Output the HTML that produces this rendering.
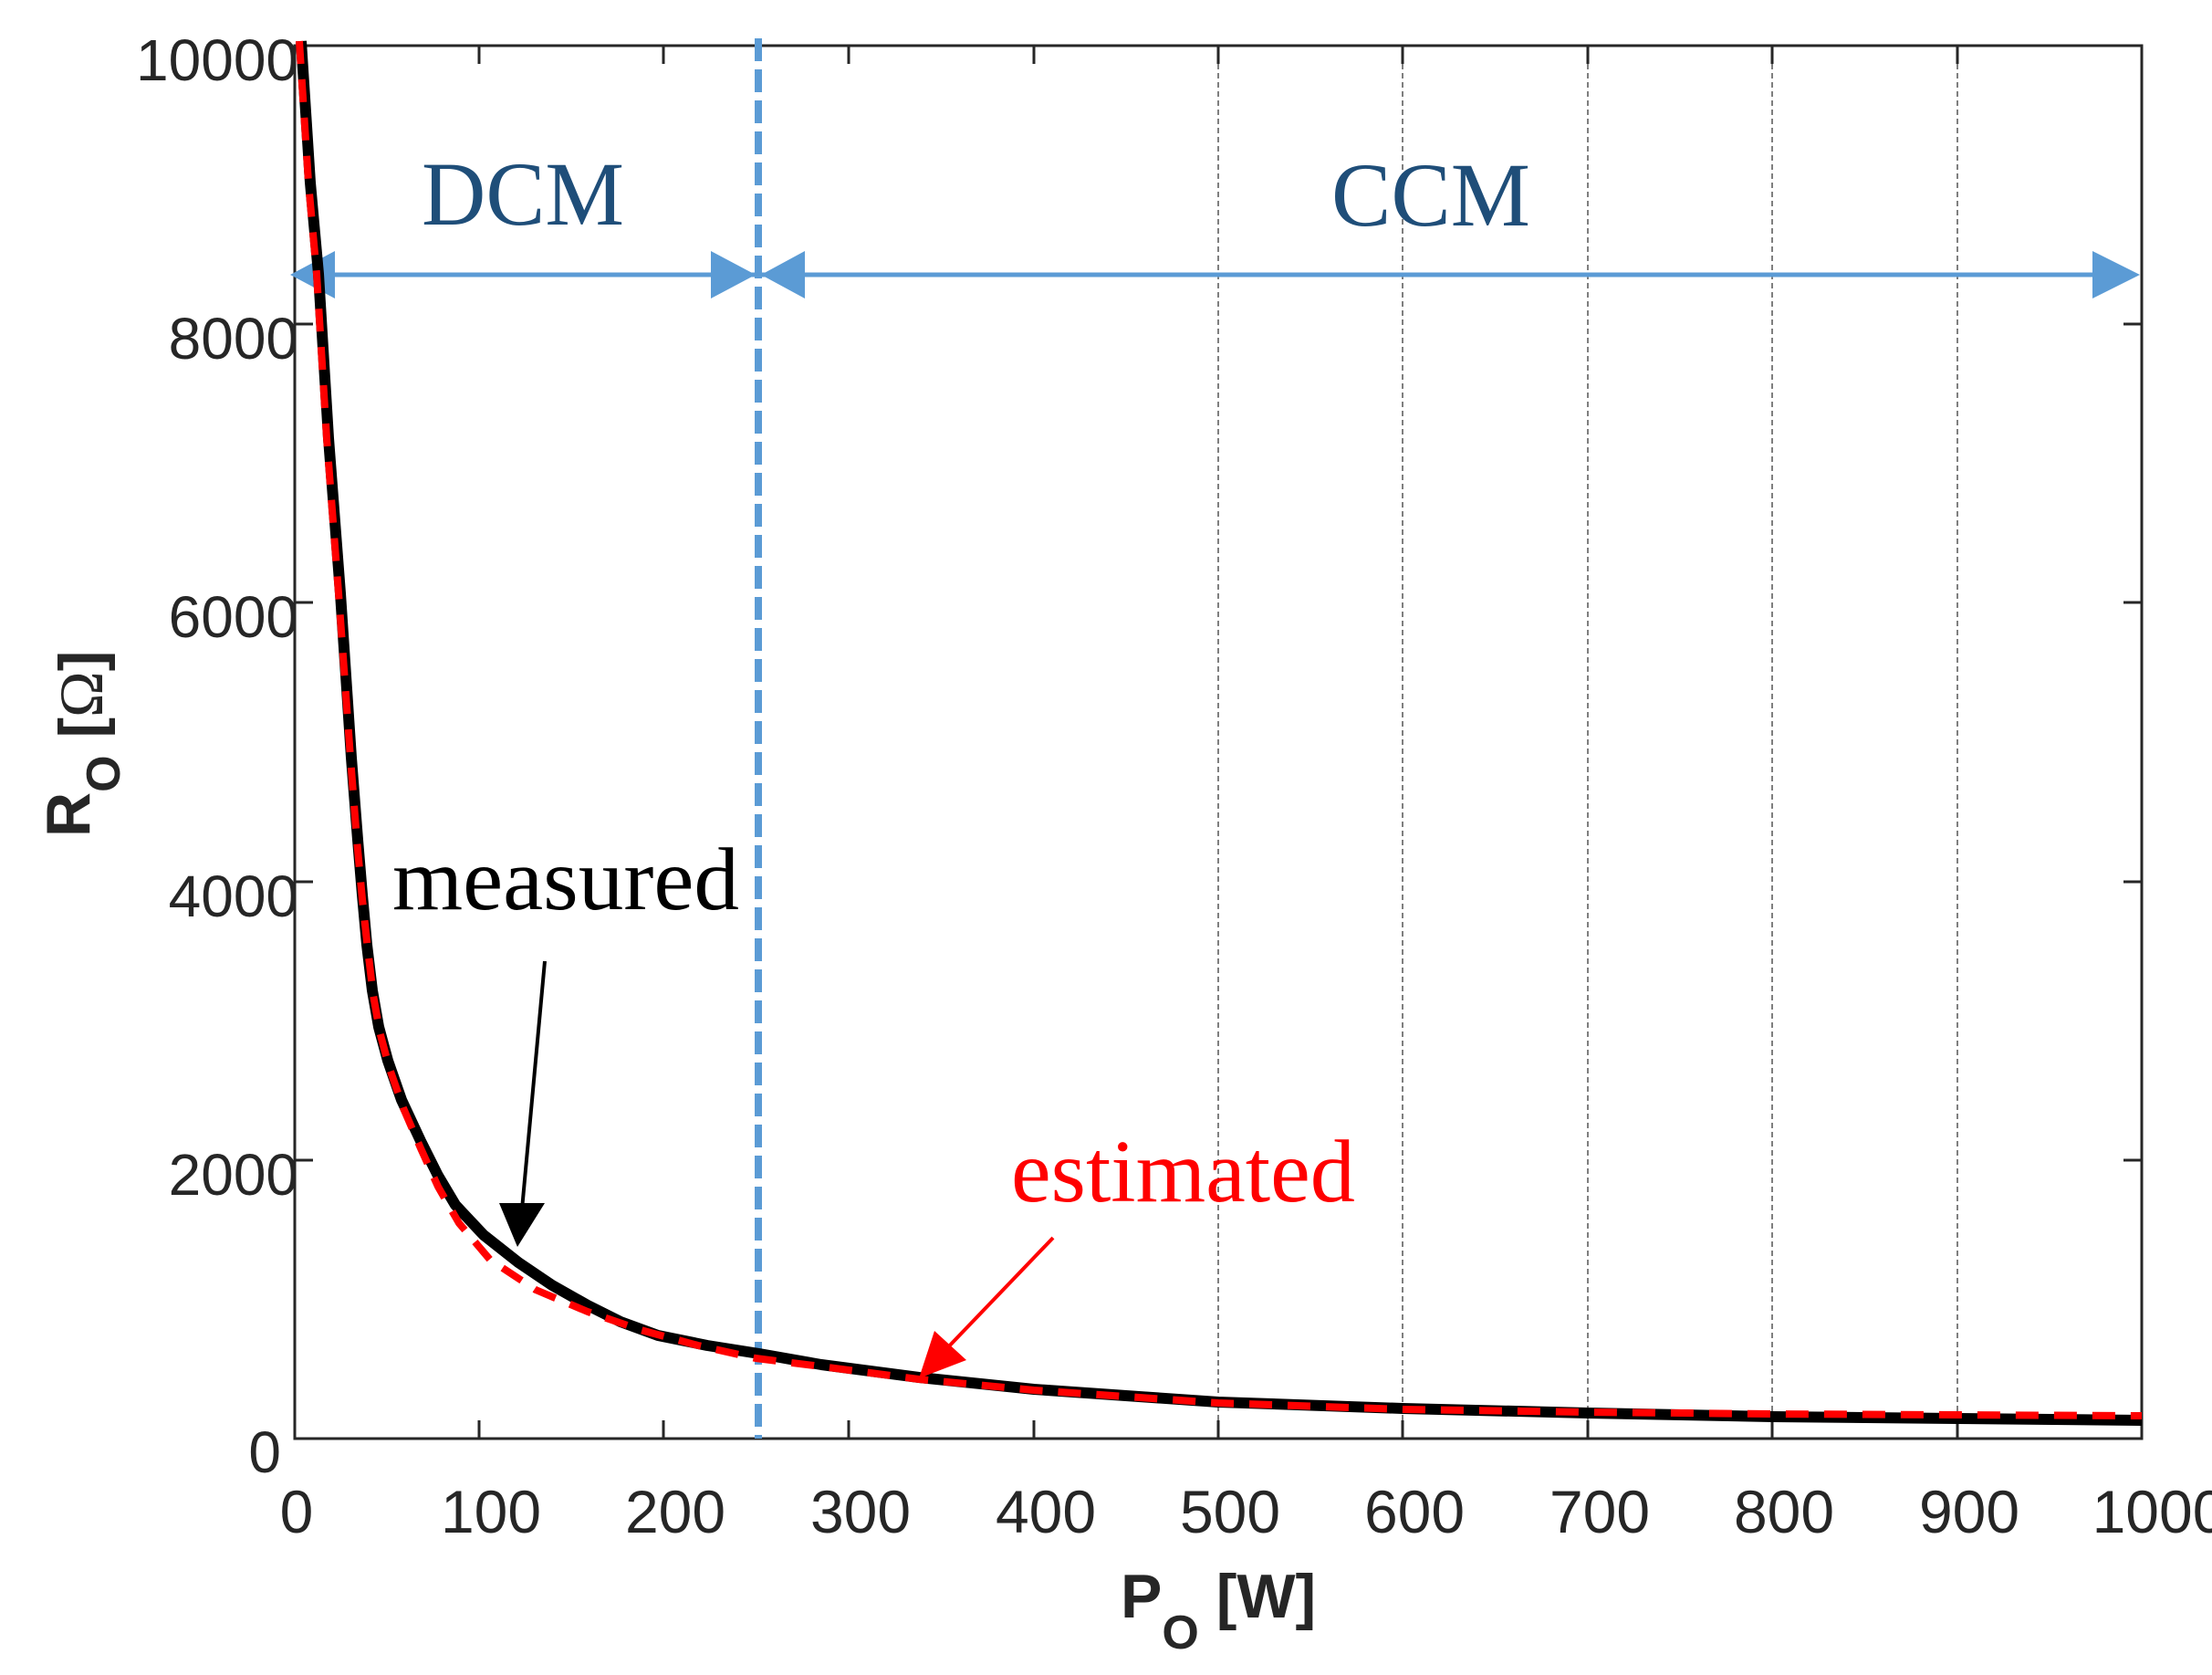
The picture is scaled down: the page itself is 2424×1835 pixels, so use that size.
<!DOCTYPE html>
<html><head><meta charset="utf-8"><style>html,body{margin:0;padding:0;background:#fff}svg{display:block}</style></head>
<body>
<svg width="2424" height="1835" viewBox="0 0 2424 1835" xmlns="http://www.w3.org/2000/svg">
<rect width="2424" height="1835" fill="#fff"/>
<g stroke="#555" stroke-width="1.5" stroke-dasharray="6,4">
<line x1="1335" y1="50" x2="1335" y2="1576"/>
<line x1="1537" y1="50" x2="1537" y2="1576"/>
<line x1="1740" y1="50" x2="1740" y2="1576"/>
<line x1="1942" y1="50" x2="1942" y2="1576"/>
<line x1="2145" y1="50" x2="2145" y2="1576"/>
</g>
<rect x="323" y="50" width="2024" height="1526" fill="none" stroke="#262626" stroke-width="3"/>
<g stroke="#262626" stroke-width="3">
<line x1="525" y1="1576" x2="525" y2="1556"/><line x1="727" y1="1576" x2="727" y2="1556"/>
<line x1="930" y1="1576" x2="930" y2="1556"/><line x1="1133" y1="1576" x2="1133" y2="1556"/>
<line x1="1335" y1="1576" x2="1335" y2="1556"/><line x1="1537" y1="1576" x2="1537" y2="1556"/>
<line x1="1740" y1="1576" x2="1740" y2="1556"/><line x1="1942" y1="1576" x2="1942" y2="1556"/>
<line x1="2145" y1="1576" x2="2145" y2="1556"/>
<line x1="525" y1="50" x2="525" y2="70"/><line x1="727" y1="50" x2="727" y2="70"/>
<line x1="930" y1="50" x2="930" y2="70"/><line x1="1133" y1="50" x2="1133" y2="70"/>
<line x1="1335" y1="50" x2="1335" y2="70"/><line x1="1537" y1="50" x2="1537" y2="70"/>
<line x1="1740" y1="50" x2="1740" y2="70"/><line x1="1942" y1="50" x2="1942" y2="70"/>
<line x1="2145" y1="50" x2="2145" y2="70"/>
<line x1="323" y1="355" x2="343" y2="355"/><line x1="323" y1="660" x2="343" y2="660"/>
<line x1="323" y1="966" x2="343" y2="966"/><line x1="323" y1="1271" x2="343" y2="1271"/>
<line x1="2347" y1="355" x2="2327" y2="355"/><line x1="2347" y1="660" x2="2327" y2="660"/>
<line x1="2347" y1="966" x2="2327" y2="966"/><line x1="2347" y1="1271" x2="2327" y2="1271"/>
</g>
<g font-family="Liberation Sans, sans-serif" font-size="64" fill="#262626" text-anchor="end">
<text x="327" y="88">10000</text>
<text x="327" y="393">8000</text>
<text x="327" y="698">6000</text>
<text x="327" y="1004">4000</text>
<text x="327" y="1309">2000</text>
<text x="308" y="1613">0</text>
</g>
<g font-family="Liberation Sans, sans-serif" font-size="66" fill="#262626" text-anchor="middle">
<text x="325" y="1679">0</text><text x="538" y="1679">100</text><text x="740" y="1679">200</text>
<text x="943" y="1679">300</text><text x="1146" y="1679">400</text><text x="1348" y="1679">500</text>
<text x="1550" y="1679">600</text><text x="1753" y="1679">700</text><text x="1955" y="1679">800</text>
<text x="2158" y="1679">900</text><text x="2366" y="1679">1000</text>
</g>
<g font-family="Liberation Sans, sans-serif" font-weight="bold" fill="#262626">
<text x="1228" y="1772" font-size="68">P<tspan font-size="52" dy="34">O</tspan><tspan dy="-34"> [W]</tspan></text>
<g transform="translate(98,917) rotate(-90)">
<text x="0" y="0" font-size="68">R<tspan font-size="52" dy="33">O</tspan><tspan dy="-19"> [</tspan><tspan font-family="Liberation Serif, serif" font-weight="normal">Ω</tspan>]</text>
</g>
</g>
<line x1="831" y1="42" x2="831" y2="1576" stroke="#5b9bd5" stroke-width="8" stroke-dasharray="25,9"/>
<line x1="340" y1="301" x2="2320" y2="301" stroke="#5b9bd5" stroke-width="5"/>
<g fill="#5b9bd5">
<polygon points="318,301 367,275 367,327"/>
<polygon points="828,301 779,275 779,327"/>
<polygon points="834,301 882,275 882,327"/>
<polygon points="2345,301 2293,275 2293,327"/>
</g>
<g font-family="Liberation Serif, serif" font-size="100" fill="#1f4e79">
<text x="462" y="246" textLength="222" lengthAdjust="spacingAndGlyphs">DCM</text>
<text x="1459" y="247" textLength="218" lengthAdjust="spacingAndGlyphs">CCM</text>
</g>
<polyline fill="none" stroke="#000" stroke-width="12" stroke-linejoin="round" points="330,45 340,200 349,300 360,480 373,650 385,830 392,920 397,980 402,1035 408,1085 415,1125 425,1162 440,1205 461,1250 480,1288 499,1320 530,1353 568,1383 605,1408 644,1430 680,1448 721,1463 775,1474 832,1483 900,1495 1007,1509 1133,1522 1335,1536 1537,1543 1740,1548 1942,1552 2145,1554 2347,1556"/>
<polyline fill="none" stroke="#ff0000" stroke-width="8" stroke-dasharray="25,17" stroke-linejoin="round" points="328,45 338,200 347,300 358,480 371,650 384,830 391,920 397,985 403,1040 409,1090 416,1130 426,1168 442,1214 461,1258 480,1300 503,1340 537,1380 587,1413 644,1437 702,1457 765,1474 828,1488 900,1497 1007,1511 1133,1523 1335,1537 1537,1544 1740,1547 1942,1549 2145,1550 2347,1551"/>
<g font-family="Liberation Serif, serif" font-size="98">
<text x="430" y="996" fill="#000" textLength="380" lengthAdjust="spacingAndGlyphs">measured</text>
<text x="1108" y="1316" fill="#ff0000" textLength="377" lengthAdjust="spacingAndGlyphs">estimated</text>
</g>
<line x1="597" y1="1053" x2="572" y2="1325" stroke="#000" stroke-width="4"/>
<polygon points="547,1318 597,1318 567,1366" fill="#000"/>
<line x1="1154" y1="1356" x2="1035" y2="1480" stroke="#ff0000" stroke-width="4"/>
<polygon points="1007,1510 1024,1458 1059,1490" fill="#ff0000"/>
</svg>
</body></html>
